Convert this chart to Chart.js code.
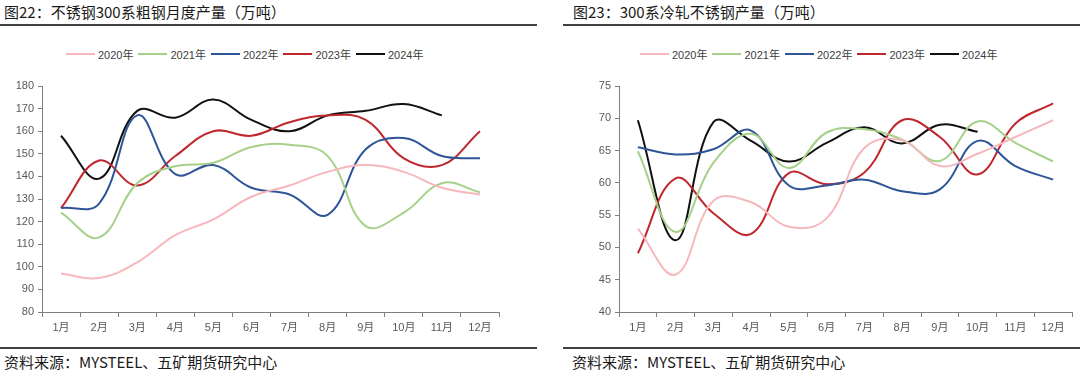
<!DOCTYPE html>
<html>
<head>
<meta charset="utf-8">
<script src="https://cdn.jsdelivr.net/npm/chart.js@4.4.1/dist/chart.umd.min.js"></script>
<style>
  body { margin: 0; width: 1080px; height: 374px; background: #fff; position: relative; overflow: hidden;
         font-family: "Noto Sans CJK SC", "Liberation Sans", sans-serif; }
  .title { position: absolute; top: 2px; font-size: 15px; line-height: 20px; color: #1a1a1a; white-space: nowrap; }
  .rule { position: absolute; height: 2px; background: #404040; }
  .src { position: absolute; top: 352px; font-size: 15px; line-height: 20px; color: #1a1a1a; white-space: nowrap; }
  .legend { position: absolute; top: 46px; display: flex; white-space: nowrap; line-height: 14px;
            font: 11px "Liberation Sans", "Noto Sans CJK SC", sans-serif; color: #404040; }
  .legend .item { display: flex; align-items: center; margin-right: 5px; }
  .legend i { display: inline-block; width: 29px; height: 2px; margin-right: 3px; }
  .box { position: absolute; top: 70px; height: 275px; }
</style>
</head>
<body>

<div class="title" style="left:4px">图22：不锈钢300系粗钢月度产量（万吨）</div>
<div class="rule" style="left:0;width:537px;top:24px"></div>
<div class="legend" id="legend1" style="left:66px"></div>
<div class="box" style="left:0;width:504px"><canvas id="crudeChart"></canvas></div>
<div class="rule" style="left:0;width:537px;top:347px"></div>
<div class="src" style="left:4px">资料来源：MYSTEEL、五矿期货研究中心</div>

<div class="title" style="left:573px">图23：300系冷轧不锈钢产量（万吨）</div>
<div class="rule" style="left:563px;width:517px;top:24px"></div>
<div class="legend" id="legend2" style="left:640px"></div>
<div class="box" style="left:560px;width:517px"><canvas id="coldChart"></canvas></div>
<div class="rule" style="left:563px;width:517px;top:347px"></div>
<div class="src" style="left:572px">资料来源：MYSTEEL、五矿期货研究中心</div>

<script>
var months = ['1月', '2月', '3月', '4月', '5月', '6月', '7月', '8月', '9月', '10月', '11月', '12月'];
var years = ['2020年', '2021年', '2022年', '2023年', '2024年'];
var lineColors = ['#f6b8bc', '#a6d18a', '#2e5597', '#c0272d', '#111111'];

// 图22 粗钢月度产量
var crude2020 = [97, 95, 102, 114, 121, 131, 136, 142, 145, 142, 135, 132];
var crude2021 = [124, 113, 137, 144.5, 146, 153, 154, 149, 118, 124, 137, 133];
var crude2022 = [126, 128, 167, 141, 145, 135, 132, 123, 152, 157, 149, 148];
var crude2023 = [126, 147, 136, 149, 160, 158, 164, 167, 165, 148, 145, 160];
var crude2024 = [158, 139, 169, 166, 174, 165, 160, 167, 169, 172, 167, null];

// 图23 冷轧产量
var cold2020 = [52.9, 45.8, 57.2, 57, 53.2, 54.5, 65.4, 66.6, 62.6, 64.5, 67.1, 69.7];
var cold2021 = [64.9, 52.4, 63.1, 67.6, 62.3, 67.8, 68.3, 66.7, 63.4, 69.5, 66.2, 63.3];
var cold2022 = [65.5, 64.4, 65.2, 68.1, 59.6, 59.6, 60.5, 58.7, 59, 66.5, 62.6, 60.5];
var cold2023 = [49.1, 60.7, 55.3, 52.1, 61.5, 59.8, 61.6, 69.7, 67.1, 61.3, 69.2, 72.3];
var cold2024 = [69.7, 51.1, 69.4, 66.5, 63.3, 66.2, 68.6, 66.1, 69.0, 67.9, null, null];

var crudeTicks = { min: 80, max: 180, step: 10 };
var coldTicks = { min: 40, max: 75, step: 5 };

function makeDatasets(series) {
    return series.map(function(data, i) {
        return {
            label: years[i],
            data: data,
            borderColor: lineColors[i],
            backgroundColor: lineColors[i],
            borderWidth: 2,
            pointRadius: 0,
            tension: 0.4,
            fill: false
        };
    });
}

function buildLegend(id) {
    var el = document.getElementById(id);
    years.forEach(function(y, i) {
        el.innerHTML += '<span class="item"><i style="background:' + lineColors[i] + '"></i>' + y + '</span>';
    });
}

function makeChart(id, series, range, yWidth) {
    var axisColor = '#7f7f7f';
    var tickFont = { family: '"Liberation Sans", "Noto Sans CJK SC", sans-serif', size: 11 };
    return new Chart(document.getElementById(id), {
        type: 'line',
        data: { labels: months, datasets: makeDatasets(series) },
        options: {
            responsive: true,
            maintainAspectRatio: false,
            animation: false,
            layout: { padding: { top: 16, right: 5, left: 0, bottom: 0 } },
            plugins: { legend: { display: false }, tooltip: { enabled: false } },
            scales: {
                x: {
                    offset: true,
                    grid: { offset: true, drawOnChartArea: false, drawTicks: true, tickLength: 5, color: axisColor },
                    border: { color: axisColor, width: 1 },
                    ticks: { color: '#595959', font: tickFont, padding: 4, maxRotation: 0, autoSkip: false },
                    afterFit: function(scale) { scale.height = 33; }
                },
                y: {
                    min: range.min,
                    max: range.max,
                    grid: { drawOnChartArea: false, drawTicks: true, tickLength: 4, color: axisColor },
                    border: { color: axisColor, width: 1 },
                    ticks: { stepSize: range.step, color: '#595959', font: tickFont, padding: 4 },
                    afterFit: function(scale) { scale.width = yWidth; }
                }
            }
        }
    });
}

buildLegend('legend1');
buildLegend('legend2');
makeChart('crudeChart', [crude2020, crude2021, crude2022, crude2023, crude2024], crudeTicks, 42);
makeChart('coldChart', [cold2020, cold2021, cold2022, cold2023, cold2024], coldTicks, 59);
</script>
</body>
</html>
